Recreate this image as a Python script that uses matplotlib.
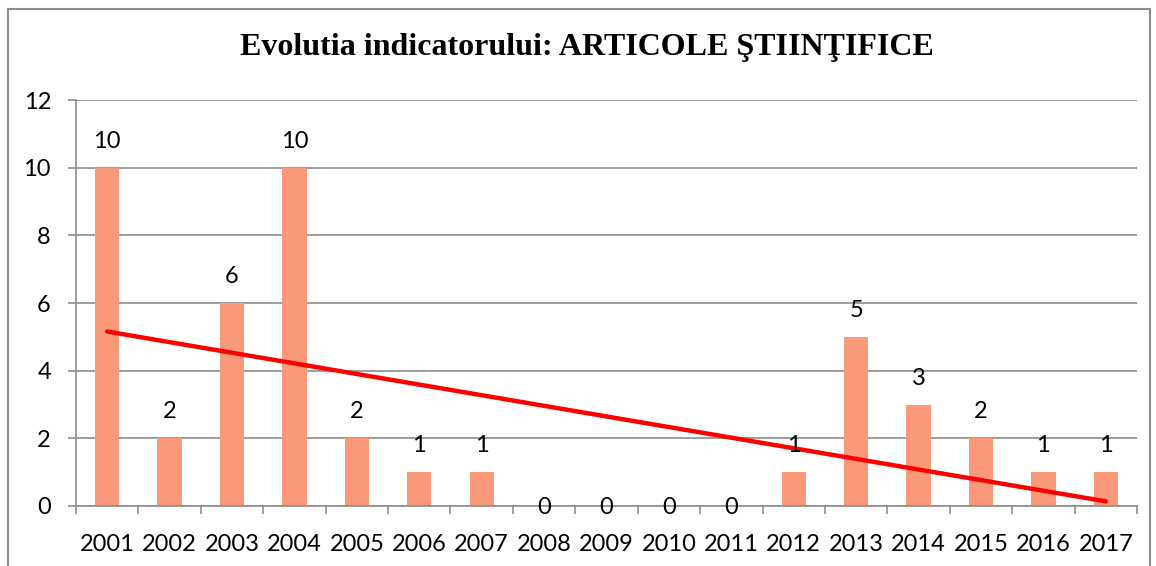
import numpy as np
import matplotlib.pyplot as plt
from matplotlib.patches import Rectangle

years = ['2001', '2002', '2003', '2004', '2005', '2006', '2007', '2008', '2009',
         '2010', '2011', '2012', '2013', '2014', '2015', '2016', '2017']
articole = [10, 2, 6, 10, 2, 1, 1, 0, 0, 0, 0, 1, 5, 3, 2, 1, 1]
title = 'Evolutia indicatorului: ARTICOLE ŞTIINŢIFICE'

W, H = 1156, 566
fig = plt.figure(figsize=(W / 100, H / 100), dpi=100)
ax = fig.add_axes([76 / W, 1 - 506 / H, (1137 - 76) / W, (506 - 100) / H])

# outer chart frame
fig.patches.append(Rectangle((8 / W, -0.05), (1150 - 8) / W, 1.05 - 9 / H,
                             transform=fig.transFigure, fill=False,
                             edgecolor='#8c8c8c', linewidth=1.5))

x = np.arange(len(years))
ax.bar(x, articole, width=0.39, color='#F9997A', zorder=2)

# linear trendline (Excel style)
k, b = np.polyfit(x, articole, 1)
ax.plot(x, k * x + b, color='#FF0000', linewidth=3.2, zorder=3,
        solid_capstyle='round')

for xi, v in zip(x, articole):
    if v == 0:
        ax.annotate(str(v), (xi, 0), xytext=(0, -1), textcoords='offset points',
                    ha='center', va='center', fontsize=17, family='Lato',
                    zorder=4)
    else:
        ax.annotate(str(v), (xi, v), xytext=(0, 19), textcoords='offset points',
                    ha='center', va='center', fontsize=17, family='Lato')

ax.set_xlim(-0.5, len(years) - 0.5)
ax.set_ylim(0, 12)
ax.set_yticks(range(0, 13, 2))
ax.yaxis.grid(True, color='#8c8c8c', linewidth=1.2, zorder=0)
ax.set_axisbelow(True)

ax.set_xticks(x)
ax.set_xticklabels(years)
ax.set_xticks(np.arange(-0.5, len(years), 1), minor=True)
ax.tick_params(axis='x', which='major', length=0, pad=20, labelsize=17)
ax.tick_params(axis='x', which='minor', length=6, width=1.2, color='#8c8c8c')
ax.tick_params(axis='y', length=6, width=1.2, color='#8c8c8c', pad=12, labelsize=17)
for lab in ax.get_xticklabels() + ax.get_yticklabels():
    lab.set_family('Lato')

for s in ['top', 'right']:
    ax.spines[s].set_visible(False)
for s in ['left', 'bottom']:
    ax.spines[s].set_color('#8c8c8c')
    ax.spines[s].set_linewidth(1.2)

fig.text(587 / W, 1 - 48 / H, title, ha='center', va='center',
         fontsize=23, fontweight='bold', family='Liberation Serif')

fig.savefig('out.png', dpi=100)
